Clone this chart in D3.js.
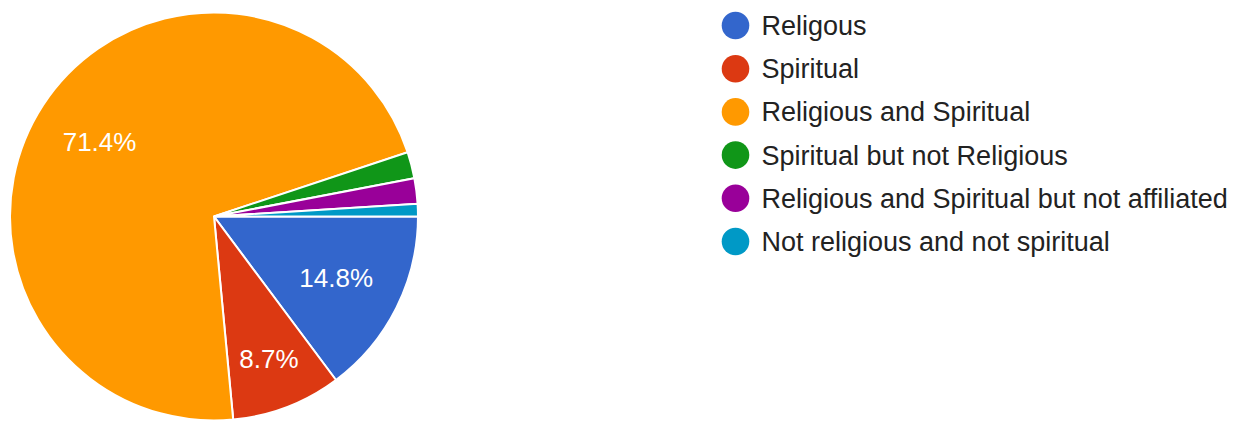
<!DOCTYPE html>
<html>
<head>
<meta charset="utf-8">
<script src="https://cdn.jsdelivr.net/npm/d3@7"></script>
<style>
  body { margin: 0; background: #fff; }
  svg { display: block; font-family: "Liberation Sans", Arial, sans-serif; }
</style>
</head>
<body>
<script>
var categories = ["Religous", "Spiritual", "Religious and Spiritual", "Spiritual but not Religious",
                  "Religious and Spiritual but not affiliated", "Not religious and not spiritual"];
var values = [14.8, 8.7, 71.4, 2.1, 2.0, 1.0];
var colors = ["#3366cc", "#dc3912", "#ff9900", "#109618", "#990099", "#0099c6"];

var WIDTH = 1235;
var HEIGHT = 421;
var CX = 214, CY = 216.5, R = 204;

var translate = function (x, y) {
  return "translate(" + x + "," + y + ")";
};

var data = categories.map(function (c, i) { return {name: c, value: values[i], color: colors[i]}; });

var pie = d3.pie()
    .sort(null)
    .value(function (d) { return d.value; })
    .startAngle(Math.PI / 2)
    .endAngle(Math.PI / 2 + 2 * Math.PI);

var arc = d3.arc().innerRadius(0).outerRadius(R);

var svg = d3.select("body").append("svg")
    .attr("width", WIDTH)
    .attr("height", HEIGHT);

var g = svg.append("g").attr("transform", translate(CX, CY));
var arcs = pie(data);

g.selectAll("path")
  .data(arcs)
  .enter().append("path")
  .attr("d", arc)
  .attr("fill", function (d) { return d.data.color; })
  .attr("stroke", "#fff")
  .attr("stroke-width", 2);

// labels only for bigger slices; narrow ones get pushed outward a bit
g.selectAll("text.lbl")
  .data(arcs.filter(function (d) { return d.data.value >= 5; }))
  .enter().append("text")
  .attr("class", "lbl")
  .attr("transform", function (d) {
    var lr = d.data.value > 10 ? R * 0.67 : R * 0.75;
    var c = d3.arc().innerRadius(lr).outerRadius(lr).centroid(d);
    return translate(c[0], c[1]);
  })
  .attr("text-anchor", "middle")
  .attr("dy", "0.35em")
  .attr("fill", "#fff")
  .style("font-size", "26px")
  .text(function (d) { return d.data.value.toFixed(1) + "%"; });

var legend = svg.append("g").attr("transform", translate(735.5, 25.5));
var item = legend.selectAll("g")
  .data(data)
  .enter().append("g")
  .attr("transform", function (d, i) { return translate(0, i * 43.2); });

item.append("circle")
  .attr("r", 13.8)
  .attr("fill", function (d) { return d.color; });

item.append("text")
  .attr("x", 26)
  .attr("dy", "0.35em")
  .attr("fill", "#222")
  .style("font-size", "27px")
  .text(function (d) { return d.name; });
</script>
</body>
</html>
